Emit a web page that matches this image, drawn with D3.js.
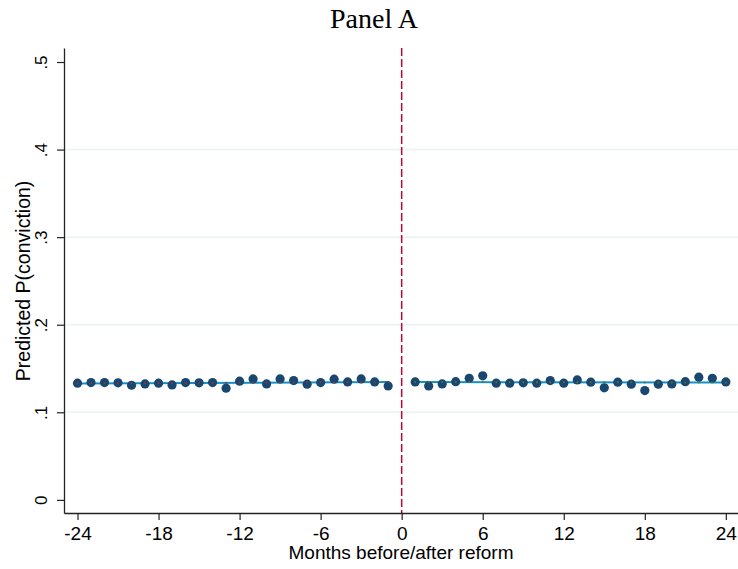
<!DOCTYPE html>
<html>
<head>
<meta charset="utf-8">
<script src="https://cdn.jsdelivr.net/npm/d3@7"></script>
<style>
  body { margin: 0; background: #fff; }
  text { font-family: "Liberation Sans", Arial, sans-serif; }
</style>
</head>
<body>
<div id="wrapper"></div>
<script>
// months before the reform and the predicted probability in each
const monthsBefore = [-24, -23, -22, -21, -20, -19, -18, -17, -16, -15, -14, -13,
  -12, -11, -10, -9, -8, -7, -6, -5, -4, -3, -2, -1]
const valuesBefore = [0.1332, 0.1339, 0.1339, 0.1336, 0.1309, 0.1324, 0.1332, 0.1313,
  0.1339, 0.1336, 0.1339, 0.1275, 0.1355, 0.1381, 0.1324, 0.1381, 0.1362, 0.1321,
  0.1339, 0.1378, 0.1347, 0.1381, 0.1347, 0.1301]

// months after the reform
const monthsAfter = [1, 2, 3, 4, 5, 6, 7, 8, 9, 10, 11, 12,
  13, 14, 15, 16, 17, 18, 19, 20, 21, 22, 23, 24]
const valuesAfter = [0.1347, 0.1301, 0.1324, 0.1350, 0.1389, 0.1416, 0.1332, 0.1332,
  0.1336, 0.1332, 0.1362, 0.1332, 0.1370, 0.1344, 0.1279, 0.1344, 0.1321, 0.1248,
  0.1321, 0.1324, 0.1350, 0.1401, 0.1389, 0.1347]

// linear fit on each side: value at first month and at last month
const fitBefore = [0.1330, 0.1345]
const fitAfter = [0.1346, 0.1340]

const xTicks = [-24, -18, -12, -6, 0, 6, 12, 18, 24]
const xTickLabels = ["-24", "-18", "-12", "-6", "0", "6", "12", "18", "24"]
const yTicks = [0, 0.1, 0.2, 0.3, 0.4, 0.5]
const yTickLabels = ["0", ".1", ".2", ".3", ".4", ".5"]
const gridTicks = [0.1, 0.2, 0.3, 0.4]

function drawChart() {
  let dimensions = {
    width: 738,
    height: 569,
    margin: {
      top: 48,
      right: 0,
      bottom: 56,
      left: 64,
    },
  }
  dimensions.boundedWidth = dimensions.width
      - dimensions.margin.left
      - dimensions.margin.right
  dimensions.boundedHeight = dimensions.height
      - dimensions.margin.top
      - dimensions.margin.bottom

  const before = monthsBefore.map((m, i) => ({month: m, value: valuesBefore[i]}))
  const after = monthsAfter.map((m, i) => ({month: m, value: valuesAfter[i]}))
  const xAccessor = d => d.month
  const yAccessor = d => d.value
  const fontSize = 19

  const wrapper = d3.select("#wrapper")
    .append("svg")
      .attr("width", dimensions.width)
      .attr("height", dimensions.height)

  const bounds = wrapper.append("g")
      .attr("transform", `translate(${dimensions.margin.left}, ${dimensions.margin.top})`)

  const xScale = d3.scaleLinear()
      .domain([-25, 24.9])
      .range([0, dimensions.boundedWidth])
  const yScale = d3.scaleLinear()
      .domain([-0.015, 0.516])
      .range([dimensions.boundedHeight, 0])

  // light gridlines
  bounds.selectAll(".grid")
    .data(gridTicks)
    .join("line")
      .attr("x1", 0)
      .attr("x2", dimensions.boundedWidth)
      .attr("y1", d => yScale(d))
      .attr("y2", d => yScale(d))
      .attr("stroke", "#eaf2f3")
      .attr("stroke-width", 1.5)

  // reform line at month 0
  bounds.append("line")
      .attr("x1", xScale(0))
      .attr("x2", xScale(0))
      .attr("y1", 0)
      .attr("y2", dimensions.boundedHeight)
      .attr("stroke", "#c10534")
      .attr("stroke-width", 1.5)
      .attr("stroke-dasharray", "8,3")

  // fitted lines
  const fits = [
    {months: [monthsBefore[0], monthsBefore[monthsBefore.length - 1]], values: fitBefore, dot: "#90353b"},
    {months: [monthsAfter[0], monthsAfter[monthsAfter.length - 1]], values: fitAfter, dot: "#55752f"},
  ]
  const fitScale = f => d3.scaleLinear().domain(f.months).range(f.values)
  fits.forEach(f => {
    bounds.append("line")
        .attr("x1", xScale(f.months[0]))
        .attr("x2", xScale(f.months[1]))
        .attr("y1", yScale(f.values[0]))
        .attr("y2", yScale(f.values[1]))
        .attr("stroke", "#1591c6")
        .attr("stroke-width", 2)
  })

  // points
  const drawPoints = (data, fit) => {
    const fitAt = fitScale(fit)
    bounds.append("g").selectAll("circle")
      .data(data)
      .join("circle")
        .attr("cx", d => xScale(xAccessor(d)))
        .attr("cy", d => yScale(yAccessor(d)))
        .attr("r", 4.6)
        .attr("fill", "#1a476f")
    // small fitted markers on the line
    bounds.append("g").selectAll("circle")
      .data(data)
      .join("circle")
        .attr("cx", d => xScale(xAccessor(d)))
        .attr("cy", d => yScale(fitAt(xAccessor(d))))
        .attr("r", 1)
        .attr("fill", fit.dot)
  }
  drawPoints(before, fits[0])
  drawPoints(after, fits[1])

  // axes
  const yAxisGenerator = d3.axisLeft()
    .scale(yScale)
    .tickValues(yTicks)
    .tickFormat((d, i) => yTickLabels[i])
    .tickSize(7)
    .tickSizeOuter(0)
  const yAxis = bounds.append("g")
    .call(yAxisGenerator)
  yAxis.select(".domain").attr("stroke", "#222").attr("stroke-width", 1.3)
  yAxis.selectAll(".tick line").attr("stroke", "#222").attr("stroke-width", 1.2)
  yAxis.selectAll(".tick text")
      .attr("x", 0)
      .attr("y", -17)
      .attr("dy", 0)
      .attr("transform", "rotate(-90)")
      .attr("text-anchor", "middle")
      .attr("font-size", 17)
      .attr("font-family", "Liberation Sans, Arial, sans-serif")
      .attr("fill", "#000")

  const xAxisGenerator = d3.axisBottom()
    .scale(xScale)
    .tickValues(xTicks)
    .tickFormat((d, i) => xTickLabels[i])
    .tickSize(7)
    .tickSizeOuter(0)
  const xAxis = bounds.append("g")
      .attr("transform", `translate(0, ${dimensions.boundedHeight})`)
    .call(xAxisGenerator)
  xAxis.select(".domain").attr("stroke", "#222").attr("stroke-width", 1.3)
  xAxis.selectAll(".tick line").attr("stroke", "#222").attr("stroke-width", 1.2)
  xAxis.selectAll(".tick text")
      .attr("y", 27)
      .attr("dy", 0)
      .attr("font-size", fontSize)
      .attr("font-family", "Liberation Sans, Arial, sans-serif")
      .attr("fill", "#000")

  // axis titles
  bounds.append("text")
      .attr("x", dimensions.boundedWidth / 2)
      .attr("y", dimensions.boundedHeight + 46)
      .attr("text-anchor", "middle")
      .attr("font-size", fontSize)
      .text("Months before/after reform")

  wrapper.append("text")
      .attr("transform", `translate(30, ${dimensions.margin.top + yScale(0.25)}) rotate(-90)`)
      .attr("text-anchor", "middle")
      .attr("font-size", 19.5)
      .text("Predicted P(conviction)")

  // title
  wrapper.append("text")
      .attr("x", 374)
      .attr("y", 28)
      .attr("text-anchor", "middle")
      .attr("font-size", 28)
      .style("font-family", "'Liberation Serif', 'DejaVu Serif', serif")
      .text("Panel A")
}

drawChart()
</script>
</body>
</html>
